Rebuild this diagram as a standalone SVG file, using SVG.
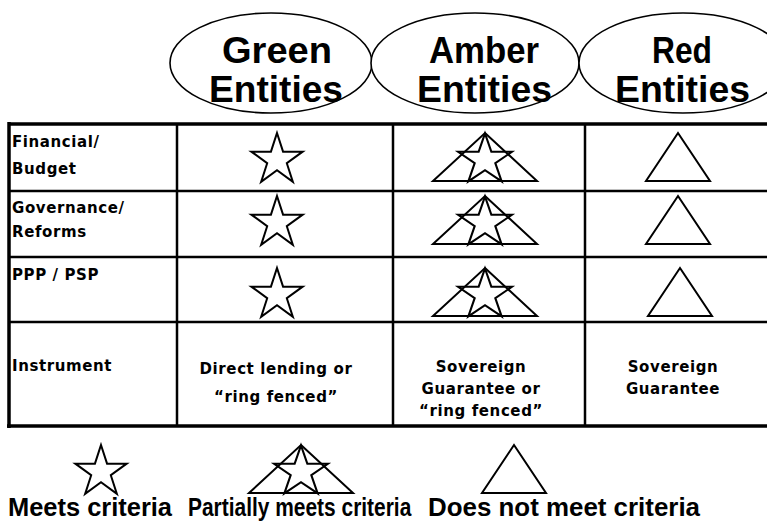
<svg xmlns="http://www.w3.org/2000/svg" xmlns:xlink="http://www.w3.org/1999/xlink" width="767" height="523" viewBox="0 0 767 523">
  <style>
    .hdr { font-family: "Liberation Sans", Arial, sans-serif; font-weight: bold; font-size: 36px; fill: #000; }
    .cell { font-family: "DejaVu Sans", Verdana, sans-serif; font-weight: bold; font-size: 15px; fill: #000; letter-spacing: 0.6px; }
    .mid { text-anchor: middle; }
    .leg { font-family: "Liberation Sans", Arial, sans-serif; font-weight: bold; font-size: 26px; fill: #000; }
    .oval { fill: #fff; stroke: #000; stroke-width: 1.6; }
    .sym { fill: none; stroke: #000; stroke-width: 2; stroke-linejoin: miter; }
    .grid { stroke: #000; stroke-width: 2.5; fill: none; }
    .thick { stroke: #000; stroke-width: 3.5; fill: none; }
  </style>
  <defs>
    <polygon id="star" class="sym" points="0,-27 6.06,-8.34 25.68,-8.34 9.81,3.19 15.87,21.84 0,10.3 -15.87,21.84 -9.81,3.19 -25.68,-8.34 -6.06,-8.34"/>
    <g id="partial">
      <polygon class="sym" points="0,0 52,48 -52,48"/>
      <use xlink:href="#star" transform="translate(0,27) scale(1.05,0.98)"/>
    </g>
    <polygon id="tri" class="sym" points="0,0 32,48 -32,48"/>
  </defs>

  <g id="header-green">
    <ellipse class="oval" cx="271" cy="63" rx="101" ry="50"/>
    <text class="hdr" x="222" y="63" textLength="110" lengthAdjust="spacingAndGlyphs">Green</text>
    <text class="hdr" x="209" y="102" textLength="134" lengthAdjust="spacingAndGlyphs">Entities</text>
  </g>
  <g id="header-amber">
    <ellipse class="oval" cx="475" cy="63" rx="104" ry="50"/>
    <text class="hdr" x="429" y="63" textLength="110" lengthAdjust="spacingAndGlyphs">Amber</text>
    <text class="hdr" x="417" y="102" textLength="135" lengthAdjust="spacingAndGlyphs">Entities</text>
  </g>
  <g id="header-red">
    <ellipse class="oval" cx="683" cy="63" rx="104" ry="50"/>
    <text class="hdr" x="652" y="63" textLength="60" lengthAdjust="spacingAndGlyphs">Red</text>
    <text class="hdr" x="615" y="102" textLength="135" lengthAdjust="spacingAndGlyphs">Entities</text>
  </g>

  <g id="table-grid">
    <line class="thick" x1="8" y1="124" x2="767" y2="124"/>
    <line class="thick" x1="9" y1="122" x2="9" y2="428"/>
    <line class="thick" x1="7" y1="426" x2="767" y2="426"/>
    <line class="grid" x1="9" y1="191" x2="767" y2="191"/>
    <line class="grid" x1="9" y1="257" x2="767" y2="257"/>
    <line class="grid" x1="9" y1="322" x2="767" y2="322"/>
    <line class="grid" x1="177" y1="124" x2="177" y2="426"/>
    <line class="grid" x1="393" y1="124" x2="393" y2="426"/>
    <line class="grid" x1="585" y1="124" x2="585" y2="426"/>
  </g>

  <g id="row-financial">
    <text class="cell" x="12" y="147">Financial/</text>
    <text class="cell" x="12" y="174">Budget</text>
    <use xlink:href="#star" x="277" y="160"/>
    <use xlink:href="#partial" x="485" y="133"/>
    <use xlink:href="#tri" x="678" y="133"/>
  </g>
  <g id="row-governance">
    <text class="cell" x="12" y="213">Governance/</text>
    <text class="cell" x="12" y="237">Reforms</text>
    <use xlink:href="#star" x="277" y="223"/>
    <use xlink:href="#partial" x="485" y="196"/>
    <use xlink:href="#tri" x="678" y="196"/>
  </g>
  <g id="row-ppp">
    <text class="cell" x="12" y="280">PPP / PSP</text>
    <use xlink:href="#star" x="277" y="295"/>
    <use xlink:href="#partial" x="485" y="268"/>
    <use xlink:href="#tri" x="680" y="268"/>
  </g>
  <g id="row-instrument">
    <text class="cell" x="12" y="371">Instrument</text>
    <text class="cell mid" x="276" y="374">Direct lending or</text>
    <text class="cell mid" x="276" y="402">“ring fenced”</text>
    <text class="cell mid" x="481" y="372">Sovereign</text>
    <text class="cell mid" x="481" y="394">Guarantee or</text>
    <text class="cell mid" x="481" y="416">“ring fenced”</text>
    <text class="cell mid" x="673" y="372">Sovereign</text>
    <text class="cell mid" x="673" y="394">Guarantee</text>
  </g>

  <g id="legend-meets">
    <use xlink:href="#star" x="101" y="472"/>
    <text class="leg" x="8" y="516" textLength="164" lengthAdjust="spacingAndGlyphs">Meets criteria</text>
  </g>
  <g id="legend-partial">
    <use xlink:href="#partial" x="301" y="445"/>
    <text class="leg" transform="translate(188,516) scale(0.805,1)" x="0" y="0">Partially meets criteria</text>
  </g>
  <g id="legend-not">
    <use xlink:href="#tri" x="514" y="445"/>
    <text class="leg" x="428" y="516" textLength="272" lengthAdjust="spacingAndGlyphs">Does not meet criteria</text>
  </g>
</svg>
